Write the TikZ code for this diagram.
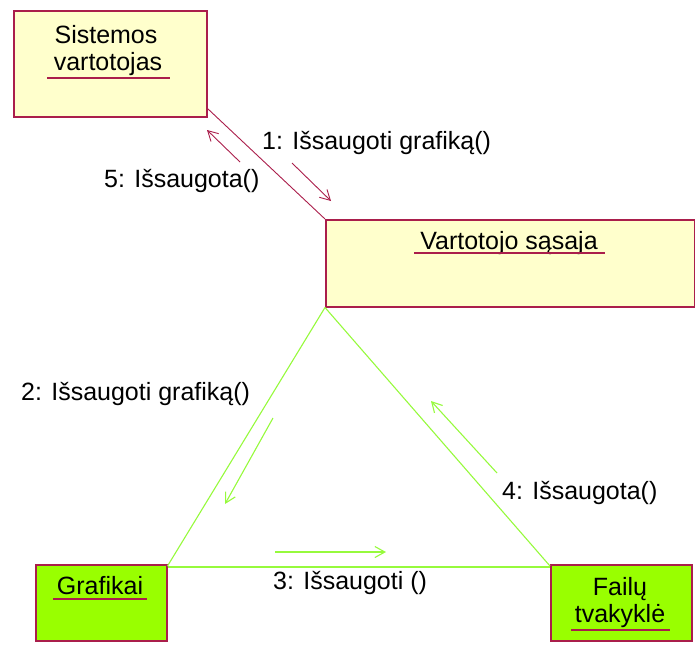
\documentclass[tikz,border=0pt]{standalone}
\usepackage{fontspec}
\setmainfont{Liberation Sans}
\usetikzlibrary{arrows.meta,calc}
\definecolor{crim}{RGB}{170,30,75}
\definecolor{lyel}{RGB}{255,255,204}
\definecolor{lgrn}{RGB}{153,255,0}
\definecolor{lline}{RGB}{150,250,60}
\begin{document}
\begin{tikzpicture}[x=1pt,y=-1pt,
  box/.style={draw=crim,line width=1.5pt,anchor=north west,inner sep=0pt,minimum width=#1},
  ybox/.style={box=#1,fill=lyel},
  gbox/.style={box=#1,fill=lgrn},
  txt/.style={inner sep=0pt,font=\fontsize{25}{29}\selectfont},
  lbl/.style={inner sep=0pt,font=\fontsize{25}{29}\selectfont},
  uline/.style={draw=crim,line width=1.3pt},
  rline/.style={draw=crim,line width=0.9pt},
  gline/.style={draw=lline,line width=1.1pt},
  msgr/.style={draw=crim,line width=0.9pt,-{Straight Barb[length=10pt,width=11pt]}},
  msgg/.style={draw=lline,line width=1.1pt,-{Straight Barb[length=10pt,width=11pt]}}]
\useasboundingbox (0,0) rectangle (695,646);
% boxes
\node[ybox=193pt,minimum height=106pt] (sys) at (13,10) {};
\node[ybox=369pt,minimum height=87pt] (vart) at (325,219) {};
\node[gbox=131pt,minimum height=76pt] (graf) at (35,564) {};
\node[gbox=141pt,minimum height=76pt] (fail) at (550,564) {};
% box texts
\node[txt] (t1) at (106,35) {Sistemos};
\node[txt] (t2) at (108,64) {vartotojas};
\draw[uline] (47,78) -- (170,78);
\node[txt] (t3) at (509,243) {Vartotojo sąsaja};
\draw[uline] (414,253) -- (605,253);
\node[txt] (t4) at (100,586) {Grafikai};
\draw[uline] (53,599) -- (147,599);
\node[txt] (t5) at (620,589) {Failų};
\node[txt] (t6) at (620,616) {tvakyklė};
\draw[uline] (571,630) -- (670,630);
% links
\draw[rline] ([yshift=9pt]sys.south east) -- (vart.north west);
\draw[gline] (vart.south west) -- ([yshift=-2pt]graf.north east);
\draw[gline] (vart.south west) -- ([yshift=-2pt]fail.north west);
\draw[gline] ([yshift=-3pt]graf.north east) -- ([yshift=-3pt]fail.north west);
% message arrows
\coordinate (a1s) at (292,163); \coordinate (a1e) at (331,201);
\draw[msgr] (a1s) -- (a1e);
\coordinate (a5s) at (240,162); \coordinate (a5e) at (207,130);
\draw[msgr] (a5s) -- (a5e);
\coordinate (a2s) at (273,418); \coordinate (a2e) at (225,504);
\draw[msgg] (a2s) -- (a2e);
\coordinate (a3s) at (275,552); \coordinate (a3e) at (386,552);
\draw[msgg] (a3s) -- (a3e);
\coordinate (a4s) at (497,473); \coordinate (a4e) at (431,401);
\draw[msgg] (a4s) -- (a4e);
% labels
\node[lbl,anchor=west] (l1) at (262,143) {1: Išsaugoti grafiką()};
\node[lbl,anchor=west] (l5) at (104,181) {5: Išsaugota()};
\node[lbl,anchor=west] (l2) at (21,394) {2: Išsaugoti grafiką()};
\node[lbl,anchor=west] (l4) at (502,493) {4: Išsaugota()};
\node[lbl,anchor=west] (l3) at (273,583) {3: Išsaugoti ()};
\end{tikzpicture}
\end{document}
